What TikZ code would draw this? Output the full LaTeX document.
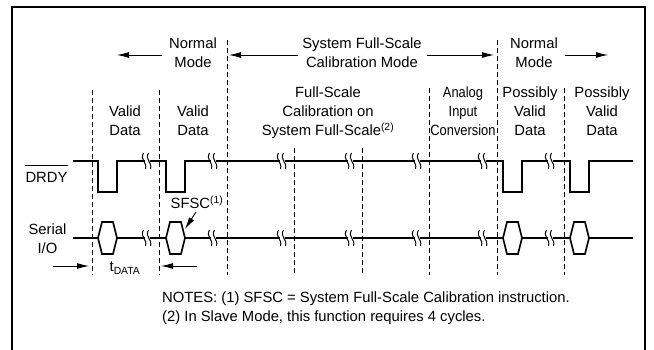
\documentclass[tikz,border=0pt]{standalone}
\usepackage{fontspec}
\setmainfont{Liberation Sans}
\usetikzlibrary{arrows.meta}
\begin{document}
\begin{tikzpicture}[x=1pt,y=-1pt,
  txt/.style={font=\fontsize{14.8}{19}\selectfont, inner sep=0pt, anchor=base},
  sig/.style={line width=1.6pt, line join=miter},
  gridline/.style={line width=0.8pt, dash pattern=on 5pt off 3pt},
  arr/.style={line width=0.9pt, -{Latex[length=12pt,width=6pt]}},
  brk/.pic={
    \fill[white] (-2.5,-5) rectangle (2.5,5);
    \draw[line width=1pt] (-3.5,-8) .. controls (-7.5,-1) and (0.5,1) .. (-1.5,8);
    \draw[line width=1pt] (1.5,-8) .. controls (-2.5,-1) and (5.5,1) .. (3.5,8);
  },
  hexa/.pic={
    \draw[line width=1.6pt, fill=white, line join=miter]
      (0,0) -- (4,-16) -- (15,-16) -- (19,0) -- (15,16) -- (4,16) -- cycle;
  }
]
\useasboundingbox (0,0) rectangle (654,350);
\fill[white] (0,0) rectangle (654,350);
% frame
\draw[line width=1.8pt] (12,352) -- (12,7) -- (645,7) -- (645,352);

% dashed guide lines
\foreach \x/\t in {92/90,159/90,227/40,294/148,362/148,429/88,497/40,564/88}
  \draw[gridline] (\x,\t) -- (\x,275);

% top mode labels
\node[txt] (nmAa) at (193,49) {Normal};
\node[txt] (nmAb) at (193,68) {Mode};
\node[txt] (sysa) at (362,49) {System Full-Scale};
\node[txt] (sysb) at (362,68) {Calibration Mode};
\node[txt] (nmBa) at (534,49) {Normal};
\node[txt] (nmBb) at (534,68) {Mode};

\coordinate (a1s) at (162,55); \coordinate (a1e) at (117,55);
\coordinate (a2s) at (298,55); \coordinate (a2e) at (229,55);
\coordinate (a3s) at (427,55); \coordinate (a3e) at (494,55);
\coordinate (a4s) at (565,55); \coordinate (a4e) at (608,55);
\draw[arr] (a1s) -- (a1e);
\draw[arr] (a2s) -- (a2e);
\draw[arr] (a3s) -- (a3e);
\draw[arr] (a4s) -- (a4e);

% phase labels
\node[txt] (vdAa) at (125,117) {Valid};
\node[txt] (vdAb) at (125,136) {Data};
\node[txt] (vdBa) at (193,117) {Valid};
\node[txt] (vdBb) at (193,136) {Data};
\node[txt] (fsa) at (328,98) {Full-Scale};
\node[txt] (fsb) at (328,117) {Calibration on};
\node[txt] (fsc) at (328,136) {System Full-Scale\textsuperscript{(2)}};
\node[txt] (ana) at (463,98) {\scalebox{0.87}[1]{Analog}};
\node[txt] (anb) at (463,117) {\scalebox{0.87}[1]{Input}};
\node[txt] (anc) at (463,136) {\scalebox{0.87}[1]{Conversion}};
\node[txt] (pvAa) at (530,98) {Possibly};
\node[txt] (pvAb) at (530,117) {Valid};
\node[txt] (pvAc) at (530,136) {Data};
\node[txt] (pvBa) at (602,98) {Possibly};
\node[txt] (pvBb) at (602,117) {Valid};
\node[txt] (pvBc) at (602,136) {Data};

% signal labels
\node[txt] (drdy) at (46.5,183) {DRDY};
\draw[line width=0.9pt] ([yshift=7pt]drdy.north west) -- ([yshift=7pt]drdy.north east);
\node[txt] (sera) at (47.5,235) {Serial};
\node[txt] (serb) at (47.5,254) {I/O};

% DRDY waveform
\draw[sig] (73,161) -- (98,161) -- (98,192) -- (117,192) -- (117,161)
  -- (166,161) -- (166,192) -- (185,192) -- (185,161)
  -- (503,161) -- (503,192) -- (522,192) -- (522,161)
  -- (570,161) -- (570,192) -- (589,192) -- (589,161) -- (633,161);
\foreach \x in {147,213,282,350,417,483,550}
  \pic at (\x,161) {brk};

% Serial I/O
\draw[sig] (73,238) -- (633,238);
\foreach \x in {147,213,282,350,417,483,550}
  \pic at (\x,238) {brk};
\foreach \x in {98,166,503,570}
  \pic at (\x,238) {hexa};

% SFSC annotation
\node[txt] (sfsc) at (197,209) {SFSC\textsuperscript{(1)}};
\coordinate (sfscTip) at (185,229);
\draw[arr] (196,212) -- (sfscTip);

% tDATA
\node[txt] (tdata) at (125,272) {t\textsubscript{DATA}};
\coordinate (t1s) at (53,266); \coordinate (t1e) at (89,266);
\coordinate (t2s) at (197,266); \coordinate (t2e) at (161,266);
\draw[arr] (t1s) -- (t1e);
\draw[arr] (t2s) -- (t2e);

% notes
\node[txt, anchor=base west] (noteA) at (162,302) {NOTES: (1) SFSC = System Full-Scale Calibration instruction.};
\node[txt, anchor=base west] (noteB) at (162,321) {(2) In Slave Mode, this function requires 4 cycles.};
\end{tikzpicture}
\end{document}
